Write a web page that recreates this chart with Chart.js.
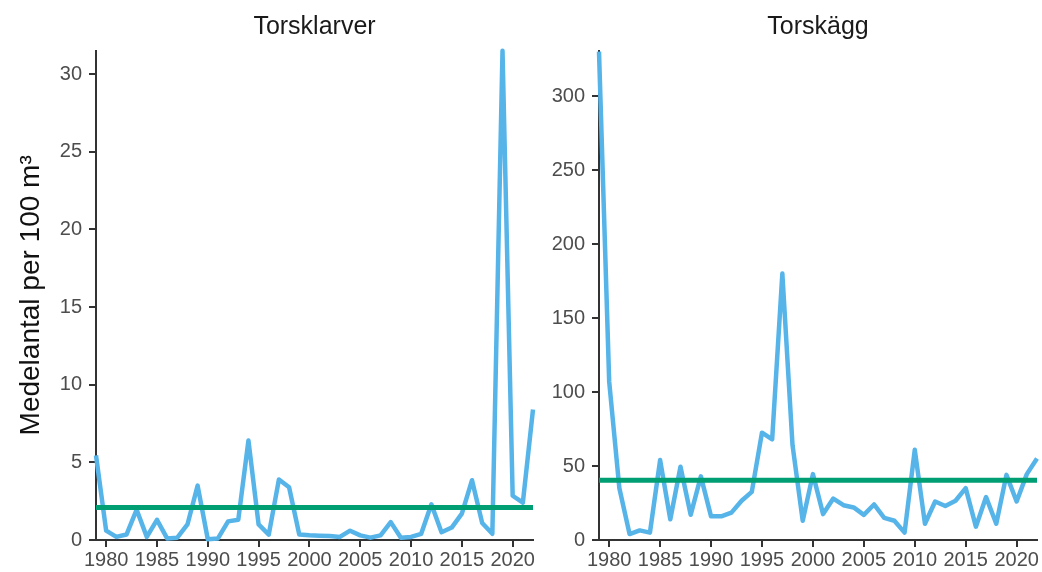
<!DOCTYPE html>
<html lang="sv">
<head>
<meta charset="utf-8">
<title>Torsklarver och torskägg</title>
<script src="https://cdn.jsdelivr.net/npm/chart.js@4.4.1/dist/chart.umd.min.js"></script>
<style>
  html, body { margin: 0; padding: 0; background: #ffffff; }
  body { width: 1042px; height: 572px; position: relative; overflow: hidden; }
  .panel { position: absolute; top: 0; height: 572px; }
  #larver { left: 0; width: 545px; }
  #agg { left: 503px; width: 539px; }
</style>
</head>
<body>
<div class="panel" id="larver"><canvas id="cLarver"></canvas></div>
<div class="panel" id="agg"><canvas id="cAgg"></canvas></div>
<script>
// Årtal för mätserierna
const years = [1979, 1980, 1981, 1982, 1983, 1984, 1985, 1986, 1987, 1988,
  1989, 1990, 1991, 1992, 1993, 1994, 1995, 1996, 1997, 1998,
  1999, 2000, 2001, 2002, 2003, 2004, 2005, 2006, 2007, 2008,
  2009, 2010, 2011, 2012, 2013, 2014, 2015, 2016, 2017, 2018,
  2019, 2020, 2021, 2022];

// Medelantal per 100 m³, torsklarver
const larver = [5.45, 0.6, 0.2, 0.35, 1.95, 0.2, 1.3, 0.1, 0.15, 1.0,
  3.5, 0.05, 0.1, 1.2, 1.3, 6.4, 1.0, 0.35, 3.9, 3.4,
  0.35, 0.3, 0.28, 0.25, 0.2, 0.6, 0.3, 0.15, 0.3, 1.15,
  0.15, 0.2, 0.4, 2.3, 0.5, 0.8, 1.7, 3.85, 1.1, 0.4,
  31.5, 2.85, 2.4, 8.4];

// Medelantal per 100 m³, torskägg
const agg = [330, 107, 35, 4, 6.5, 5, 54, 14, 49.5, 17,
  43, 16, 16, 18.5, 26.5, 32.5, 72.5, 68, 180, 64,
  13, 44.5, 17.5, 28, 23.5, 22, 17, 24, 15, 13,
  5, 61, 11, 26, 23, 26.5, 35, 9, 29, 11,
  44, 26, 44.5, 55];

// Medelvärde för hela perioden
const medelLarver = 2.1;
const medelAgg = 40.4;

// Axelmarkeringar
const xTicks = [1980, 1985, 1990, 1995, 2000, 2005, 2010, 2015, 2020];
const yTicksLarver = [0, 5, 10, 15, 20, 25, 30];
const yTicksAgg = [0, 50, 100, 150, 200, 250, 300];

const FONT = "'Liberation Sans', Arial, sans-serif";
const BLUE = '#56B4E9';
const GREEN = '#009E73';
const AXIS = '#333333';
const TICKTXT = '#4D4D4D';

function toPoints(values) {
  return years.map((y, i) => ({ x: y, y: values[i] }));
}

function meanLine(m) {
  return [{ x: years[0], y: m }, { x: years[years.length - 1], y: m }];
}

function makeChart(canvasId, title, values, mean, yMax, yTicks, yTitle, padRight) {
  return new Chart(document.getElementById(canvasId), {
    type: 'line',
    data: {
      datasets: [
        {
          data: meanLine(mean),
          borderColor: GREEN,
          borderWidth: 5,
          pointRadius: 0,
          tension: 0,
          clip: 0
        },
        {
          data: toPoints(values),
          borderColor: BLUE,
          borderWidth: 4.5,
          pointRadius: 0,
          tension: 0,
          borderJoinStyle: 'round',
          clip: 3
        }
      ]
    },
    options: {
      responsive: true,
      maintainAspectRatio: false,
      animation: false,
      events: [],
      layout: { padding: { left: 0, right: padRight, top: 0, bottom: 0 } },
      plugins: {
        legend: { display: false },
        tooltip: { enabled: false },
        title: {
          display: true,
          fullSize: false,
          text: title,
          color: '#1a1a1a',
          font: { family: FONT, size: 25, weight: 'normal', lineHeight: 1.2 },
          padding: { top: 12, bottom: 8.7 }
        }
      },
      scales: {
        x: {
          type: 'linear',
          min: years[0],
          max: years[years.length - 1],
          afterBuildTicks: (s) => { s.ticks = xTicks.map(v => ({ value: v })); },
          afterFit: (s) => { s.height = 32; },
          border: { display: true, color: AXIS, width: 2 },
          grid: { drawOnChartArea: false, drawTicks: true, tickLength: 7, tickColor: AXIS, lineWidth: 2 },
          ticks: {
            color: TICKTXT,
            font: { family: FONT, size: 20 },
            padding: 1,
            maxRotation: 0,
            autoSkip: false,
            callback: (v) => String(v)
          }
        },
        y: {
          type: 'linear',
          min: 0,
          max: yMax,
          afterBuildTicks: (s) => { s.ticks = yTicks.map(v => ({ value: v })); },
          afterFit: (s) => { s.width = 96; },
          border: { display: true, color: AXIS, width: 2 },
          grid: { drawOnChartArea: false, drawTicks: true, tickLength: 7, tickColor: AXIS, lineWidth: 2 },
          ticks: {
            color: TICKTXT,
            font: { family: FONT, size: 20 },
            padding: 7,
            autoSkip: false,
            callback: (v) => String(v)
          },
          title: {
            display: !!yTitle,
            text: yTitle || '',
            color: '#111111',
            font: { family: FONT, size: 28 },
            padding: { top: 14, bottom: 0 }
          }
        }
      }
    }
  });
}

makeChart('cLarver', 'Torsklarver', larver, medelLarver, 31.5, yTicksLarver, 'Medelantal per 100 m³', 12);
makeChart('cAgg', 'Torskägg', agg, medelAgg, 330.6, yTicksAgg, null, 5);
</script>
</body>
</html>
